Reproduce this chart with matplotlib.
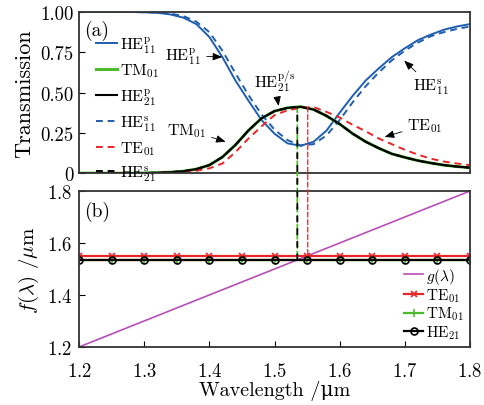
import numpy as np
import matplotlib.pyplot as plt
from matplotlib.patches import ConnectionPatch

plt.rcParams['font.family'] = ['cmr10', 'DejaVu Serif']
plt.rcParams['mathtext.fontset'] = 'cm'
plt.rcParams['axes.formatter.use_mathtext'] = True

# (a) transmission spectra
wl = [1.20, 1.22, 1.24, 1.26, 1.28, 1.30, 1.32, 1.34, 1.36, 1.38, 1.40,
      1.42, 1.44, 1.46, 1.48, 1.50, 1.52, 1.54, 1.56, 1.58, 1.60, 1.62,
      1.64, 1.66, 1.68, 1.70, 1.72, 1.74, 1.76, 1.78, 1.80]
he11_p = [1.00, 1.00, 1.00, 1.00, 1.00, 0.998, 0.995, 0.985, 0.965, 0.925, 0.845,
          0.72, 0.575, 0.45, 0.33, 0.245, 0.185, 0.17, 0.195, 0.265, 0.375, 0.48,
          0.575, 0.65, 0.72, 0.775, 0.825, 0.86, 0.89, 0.91, 0.925]
he11_s = [1.00, 1.00, 1.00, 1.00, 1.00, 0.999, 0.997, 0.99, 0.975, 0.94, 0.875,
          0.76, 0.62, 0.485, 0.365, 0.27, 0.205, 0.172, 0.18, 0.235, 0.33, 0.44,
          0.54, 0.625, 0.70, 0.76, 0.81, 0.85, 0.875, 0.895, 0.91]
he21_p = [0.0, 0.0, 0.0, 0.0, 0.0, 0.001, 0.003, 0.006, 0.012, 0.025, 0.05,
          0.10, 0.175, 0.265, 0.34, 0.385, 0.405, 0.412, 0.395, 0.355, 0.305, 0.245,
          0.195, 0.155, 0.12, 0.098, 0.078, 0.063, 0.05, 0.041, 0.034]
tm01 = he21_p
he21_s = he21_p
te01 = [0.0, 0.0, 0.0, 0.0, 0.0, 0.0, 0.002, 0.004, 0.008, 0.015, 0.03,
        0.06, 0.13, 0.215, 0.29, 0.36, 0.39, 0.405, 0.41, 0.38, 0.345, 0.30,
        0.26, 0.215, 0.18, 0.145, 0.115, 0.09, 0.072, 0.06, 0.05]

# resonance positions (um) and peak transmission
res_tm = 1.535
res_te = 1.551
peak_t = 0.41

# (b) graphical solution
wl_b = [1.20, 1.25, 1.30, 1.35, 1.40, 1.45, 1.50, 1.55, 1.60, 1.65, 1.70, 1.75, 1.80]
g = [1.20, 1.25, 1.30, 1.35, 1.40, 1.45, 1.50, 1.55, 1.60, 1.65, 1.70, 1.75, 1.80]
f_te = [1.551] * len(wl_b)
f_tm = [1.535] * len(wl_b)
f_he21 = [1.535] * len(wl_b)

blue = '#1f5db0'
red = '#e8262a'
green = '#4dbb2b'
purple = '#b84fb8'
spine = '#333333'

fig = plt.figure(figsize=(4.85, 4.06), dpi=100)
ax1 = fig.add_axes([0.163, 0.571, 0.806, 0.397])
ax2 = fig.add_axes([0.163, 0.143, 0.806, 0.384])

ax1.plot(wl, he11_p, color=blue, lw=1.4, label=r'HE$_{11}^{\mathrm{p}}$')
ax1.plot(wl, tm01, color=green, lw=2.2, label=r'TM$_{01}$')
ax1.plot(wl, he21_p, color='k', lw=1.5, label=r'HE$_{21}^{\mathrm{p}}$')
ax1.plot(wl, he11_s, color=blue, lw=1.4, ls=(0, (3.5, 2.5)), label=r'HE$_{11}^{\mathrm{s}}$')
ax1.plot(wl, te01, color=red, lw=1.4, ls=(0, (3.5, 2.5)), label=r'TE$_{01}$')
ax1.plot(wl, he21_s, color='k', lw=1.4, ls=(0, (3.5, 2.5)), label=r'HE$_{21}^{\mathrm{s}}$')

ax1.set_xlim(1.2, 1.8)
ax1.set_ylim(0, 1.0)
ax1.set_yticks([0, 0.25, 0.5, 0.75, 1.0])
ax1.set_yticklabels(['0', '0.25', '0.50', '0.75', '1.00'])
ax1.tick_params(axis='y', direction='in', length=4, labelsize=13.5, pad=4)
ax1.tick_params(axis='x', length=0, labelbottom=False)
ax1.set_ylabel('Transmission', fontsize=16, labelpad=4)
ax1.text(0.013, 0.89, '(a)', transform=ax1.transAxes, fontsize=14, va='center')
ax1.legend(loc='upper left', bbox_to_anchor=(0.02, 0.925), frameon=False,
           fontsize=11.5, handlelength=1.3, handletextpad=0.15,
           labelspacing=0.42, borderaxespad=0.2)

arrow = dict(arrowstyle='-|>,head_length=0.5,head_width=0.2', color='k', lw=0.6)
ax1.annotate(r'HE$_{11}^{\mathrm{p}}$', xy=(1.424, 0.72), xytext=(1.36, 0.73),
             ha='center', va='center', fontsize=11.5, arrowprops=arrow)
ax1.annotate(r'TM$_{01}$', xy=(1.429, 0.19), xytext=(1.365, 0.27),
             ha='center', va='center', fontsize=11.5, arrowprops=arrow)
ax1.annotate(r'HE$_{21}^{\mathrm{p/s}}$', xy=(1.507, 0.40), xytext=(1.50, 0.57),
             ha='center', va='center', fontsize=11.5, arrowprops=arrow)
ax1.annotate(r'HE$_{11}^{\mathrm{s}}$', xy=(1.696, 0.71), xytext=(1.74, 0.54),
             ha='center', va='center', fontsize=11.5, arrowprops=arrow)
ax1.annotate(r'TE$_{01}$', xy=(1.665, 0.22), xytext=(1.731, 0.30),
             ha='center', va='center', fontsize=11.5, arrowprops=arrow)

ax2.plot(wl_b, g, color=purple, lw=1.2, label=r'$g(\lambda)$')
ax2.plot(wl_b, f_te, color=red, lw=1.6, marker='x', ms=4, mew=1.2, label=r'TE$_{01}$')
ax2.plot(wl_b, f_tm, color=green, lw=1.6, marker='+', ms=6, mew=1.2, label=r'TM$_{01}$')
ax2.plot(wl_b, f_he21, color='k', lw=1.6, marker='o', ms=5, mew=1.2, mfc='none',
         label=r'HE$_{21}$')

ax2.set_xlim(1.2, 1.8)
ax2.set_ylim(1.2, 1.8)
ax2.set_xticks([1.2, 1.3, 1.4, 1.5, 1.6, 1.7, 1.8])
ax2.set_yticks([1.2, 1.4, 1.6, 1.8])
ax2.tick_params(direction='in', length=4, labelsize=13.5, pad=5)
ax2.tick_params(axis='x', pad=11)
ax2.set_xlabel('Wavelength /μm', fontsize=14.5, labelpad=0)
ax2.set_ylabel(r'$f(\lambda)$ /$\mu$m', fontsize=15, labelpad=4)
ax2.text(0.013, 0.87, '(b)', transform=ax2.transAxes, fontsize=14, va='center')
ax2.legend(loc='lower right', frameon=False, fontsize=11, handlelength=1.25,
           handletextpad=0.2, labelspacing=0.05, borderaxespad=0.0)

for ax in (ax1, ax2):
    for s in ax.spines.values():
        s.set_color(spine)
        s.set_linewidth(1.3)

# vertical guide lines from the resonance peaks down to the crossings
for x, lvl, col, lw, dash in [(res_tm, res_tm, green, 1.3, (0, (3, 2))),
                              (res_tm, res_tm, 'k', 1.3, (2.5, (3, 4))),
                              (res_te, res_te, red, 0.9, (0, (4, 2)))]:
    con = ConnectionPatch(xyA=(x, peak_t), coordsA=ax1.transData,
                          xyB=(x, lvl), coordsB=ax2.transData,
                          color=col, lw=lw, linestyle=dash, zorder=5)
    fig.add_artist(con)

fig.savefig('out.png', dpi=100)
